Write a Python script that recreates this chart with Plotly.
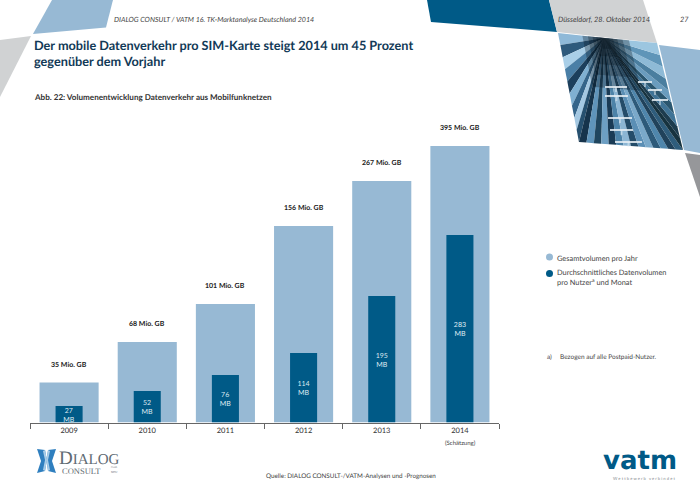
import plotly.graph_objects as go

W, H = 700, 495
FONT = "Lato"
HELL = "#97b9d4"
DUNKEL = "#005a87"
GRAU = "#d0d2d3"

# Data
jahre = ["2009", "2010", "2011", "2012", "2013", "2014"]
gesamt_label = ["35 Mio. GB", "68 Mio. GB", "101 Mio. GB", "156 Mio. GB", "267 Mio. GB", "395 Mio. GB"]
# the drawn bars are not proportional to their labels, so heights are kept apart
gesamt_hoehe = [40, 80.5, 118.5, 196.5, 241.5, 276.5]
daten_label = ["27<br>MB", "52<br>MB", "76<br>MB", "114<br>MB", "195<br>MB", "283<br>MB"]
daten_hoehe = [16.5, 31.5, 47.5, 69.5, 126.5, 187.5]


def px(x):
    return x / W


def py(y):
    return 1 - y / H


def text(x, y, s, size=8, color="#3c3c3c", anchor="left", **font_extra):
    return dict(text=s, x=px(x), y=py(y), xref="paper", yref="paper", showarrow=False,
                xanchor=anchor, yanchor="middle", align=anchor, borderpad=0, borderwidth=0,
                font=dict(family=font_extra.pop("family", FONT), size=size, color=color, **font_extra))


def poly(points, color, opacity=1, layer="below"):
    path = "M" + " L".join(f"{px(x):.4f},{py(y):.4f}" for x, y in points) + " Z"
    return dict(type="path", path=path, xref="paper", yref="paper", fillcolor=color,
                opacity=opacity, line_width=0, layer=layer)


def circle(x, y, r, color):
    return dict(type="circle", xref="paper", yref="paper", x0=px(x - r), x1=px(x + r),
                y0=py(y + r), y1=py(y - r), fillcolor=color, line_width=0)


def lerp(a, b, t):
    return (a[0] + (b[0] - a[0]) * t, a[1] + (b[1] - a[1]) * t)


# Decoration around the slide
shapes = [
    poly([(52, 0), (113, 0), (106, 27.5), (33, 34)], HELL),
    poly([(31, 36), (0, 40), (0, 97)], GRAU),
    poly([(427, 0), (549, 0), (557, 32), (431, 22)], DUNKEL),
    poly([(549, 0), (643, 0), (657, 43), (557, 32)], GRAU),
    poly([(659, 45), (700, 50), (700, 153), (684, 150)], HELL),
    poly([(685, 153), (700, 155), (700, 197)], "#96979a"),
]

# Photo top right, a fan of streaks out of the vanishing point
foto = [(558, 33), (657, 43), (683, 150), (579, 142)]
mitte = (604, 38)
rand = [lerp(foto[0], foto[3], i / 9) for i in range(9)]
rand += [lerp(foto[3], foto[2], i / 14) for i in range(14)]
rand += [lerp(foto[2], foto[1], i / 9) for i in range(10)]
streifen = ["#8fb9d8", "#2e5a7c", "#a9cfe8", "#4a7fa6", "#1c3f5c", "#7fb0d2", "#35658a", "#a4c8e2", "#26506f",
            "#16344c", "#5f94ba", "#20465f", "#6d9fc3", "#1a3b55", "#4d83a8", "#8cb6d4", "#244c69", "#5b8fb5",
            "#7aa9ca", "#2d5a7a", "#4f86ac", "#20425b", "#2f5d7c", "#17333f", "#1d3c4e", "#3f7396", "#2a566f",
            "#6a9cbe", "#4a7e9f", "#8ebad6", "#5f95b8", "#9cc6e0", "#79aacb"]
for i in range(len(rand) - 1):
    shapes.append(poly([mitte, rand[i], rand[i + 1]], streifen[i]))
for k in [0.1, 0.17, 0.25, 0.35, 0.47]:
    shapes.append(poly([lerp(mitte, p, k) for p in foto], "#04101c", 0.3))
striche = [(605, 627, 87), (605, 628, 96), (608, 632, 118), (610, 633, 130), (615, 642, 142),
           (638, 652, 82), (648, 662, 90), (652, 668, 100)]
for x0, x1, y in striche:
    shapes.append(poly([(x0, y - 1), (x1, y - 1), (x1, y + 1), (x0, y + 1)], "#e6eff5", 0.85))
    mx = (x0 + x1) / 2
    shapes.append(poly([(mx - 1, y), (mx + 1, y), (mx + 1, y + 5), (mx - 1, y + 5)], "#e6eff5", 0.5))

# Dialog logo, the butterfly
shapes += [
    poly([(37, 449), (45, 450), (47, 460), (45, 471), (37, 473), (41, 461)], "#2f7fbf"),
    poly([(56, 449), (48, 450), (46.5, 460), (48, 471), (56, 473), (52, 461)], "#2f7fbf"),
    poly([(43, 451), (45, 450), (47, 460), (45, 471), (43, 470), (45, 460)], "#a9cde8"),
    poly([(50, 451), (48, 450), (46.5, 460), (48, 471), (50, 470), (48, 460)], "#a9cde8"),
]

# Legend dots
shapes += [circle(549.5, 257, 3.5, HELL), circle(549.5, 273.5, 3.5, DUNKEL)]

TITEL = "#123a57"
annotations = [
    text(114, 19, "DIALOG CONSULT / VATM 16. TK-Marktanalyse Deutschland 2014", 7.1, "#444444", style="italic"),
    text(558, 19, "Düsseldorf, 28. Oktober 2014", 7.4, "#444444", style="italic"),
    text(680, 19, "27", 7.4, "#444444", style="italic"),
    text(34, 45, "Der mobile Datenverkehr pro SIM-Karte steigt 2014 um 45 Prozent", 12.7, TITEL, weight=700),
    text(34, 61, "gegenüber dem Vorjahr", 12.7, TITEL, weight=700),
    text(34, 97, "Abb. 22: Volumenentwicklung Datenverkehr aus Mobilfunknetzen", 8.1, "#333333", weight=700),
    text(460, 442, "(Schätzung)", 6, "#444444", "center"),
    text(557, 258, "Gesamtvolumen pro Jahr", 7.4, "#444444"),
    text(557, 272, "Durchschnittliches Datenvolumen", 7.4, "#444444"),
    text(557, 282, "pro Nutzer<sup>a</sup> und Monat", 7.4, "#444444"),
    text(547, 356, "a)", 6.5, "#444444"),
    text(560, 356, "Bezogen auf alle Postpaid-Nutzer.", 6.5, "#444444"),
    text(266, 475, "Quelle: DIALOG CONSULT-/VATM-Analysen und -Prognosen", 6.3, "#444444"),
    text(59, 457, "<span style=\"font-size:19px\">D</span>IALOG", 15, "#5f6b73", family="Liberation Serif"),
    text(62, 470.5, "CONSULT", 8.5, "#5f6b73", family="Liberation Serif"),
    text(111, 467, "Gmb", 3, "#5f6b73", family="Liberation Serif"),
    text(111, 472, "BDU", 3, "#5f6b73", family="Liberation Serif"),
    text(640, 460, "vatm", 26, DUNKEL, "center", family="DejaVu Sans", weight=700),
    text(644, 478, "W e t t b e w e r b   v e r b i n d e t", 4.2, "#8a8f93", "center"),
]
# Totals above the light bars, tied to the axis by category index
for i, (h, s) in enumerate(zip(gesamt_hoehe, gesamt_label)):
    annotations.append(dict(text=s, x=i, y=h, xref="x", yref="y", showarrow=False, yanchor="middle",
                            yshift=19, font=dict(family=FONT, size=7, color="#222222", weight=700)))

fig = go.Figure()
fig.add_trace(go.Bar(x=jahre, y=gesamt_hoehe, width=0.756, marker=dict(color=HELL, line_width=0), name="Gesamtvolumen pro Jahr"))
fig.add_trace(go.Bar(x=jahre, y=daten_hoehe, width=0.346, marker=dict(color=DUNKEL, line_width=0),
                     text=daten_label, textposition="inside", insidetextanchor="middle", textangle=0,
                     constraintext="none", insidetextfont=dict(family=FONT, size=7, color="#dfeaf2"),
                     name="Durchschnittliches Datenvolumen"))

fig.update_layout(
    width=W, height=H, margin=dict(l=0, r=0, t=0, b=0), showlegend=False, barmode="overlay",
    plot_bgcolor="rgba(0,0,0,0)", paper_bgcolor="white", shapes=shapes, annotations=annotations,
    xaxis=dict(domain=[px(30), px(499)], type="category", range=[-0.5, 5.5], tickson="boundaries", ticks="outside",
               ticklen=5, tickcolor="#666666", showline=True, linecolor="#666666", linewidth=1, showgrid=False,
               tickangle=0, tickfont=dict(family=FONT, size=7.5, color="#333333")),
    yaxis=dict(domain=[py(422.5), py(122.5)], range=[0, 300], visible=False),
)

# body margin off, and text widths that scale with the font size
post = ("document.body.style.margin='0';"
        "var s=document.createElement('style');s.textContent='text{text-rendering:geometricPrecision}';"
        "document.head.appendChild(s);")
fig.write_html("out.html", post_script=post, config={"displayModeBar": False})
